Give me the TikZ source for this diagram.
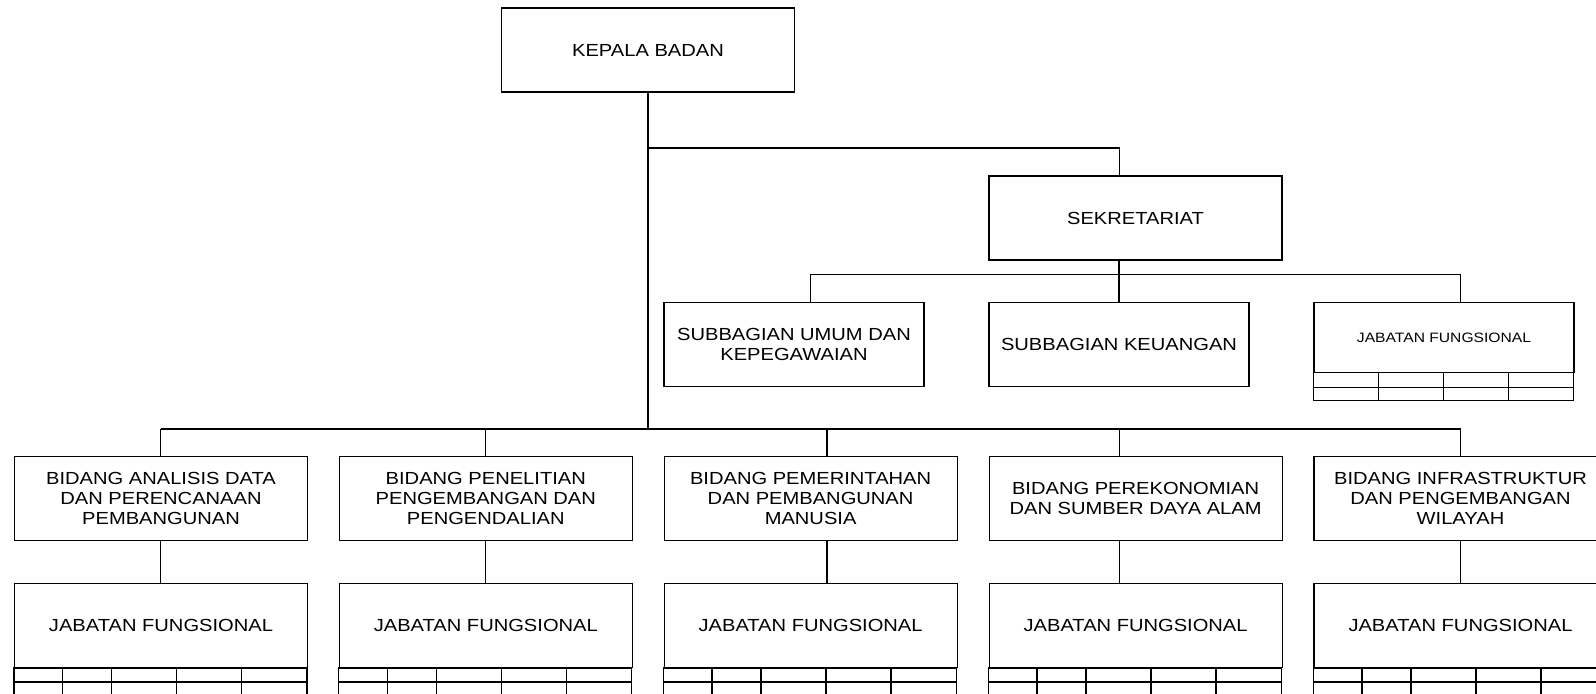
\documentclass[tikz,border=0pt]{standalone}
\usepackage{fontspec}
\setmainfont{Liberation Sans}[FakeStretch=1.15]
\begin{document}
\begin{tikzpicture}[x=0.5pt,y=-0.5pt,line width=0.6pt,
    unit/.style={rectangle,draw=black,minimum width=146.5pt,minimum height=42pt,
      inner sep=2pt,align=center,font=\fontsize{8.75}{10}\selectfont},
    sub/.style={unit,minimum width=130pt,minimum height=42.2pt}]
    \useasboundingbox (0,0) rectangle (1596,694);

    \node[unit] (K) at (648, 50) {KEPALA BADAN};
    \node[unit] (S) at (1135.5, 218) {SEKRETARIAT};

    \node[sub] (S1) at (794, 344.5) {SUBBAGIAN UMUM DAN\\KEPEGAWAIAN};
    \node[sub] (S2) at (1119, 344.5) {SUBBAGIAN KEUANGAN};
    \node[sub,minimum height=34.8pt,font=\fontsize{6.8}{8}\selectfont] (S3) at (1444, 337.5) {JABATAN FUNGSIONAL};

    \draw (S3.south west) rectangle ++(260,27.7);
    \draw (S3.south west) ++(0,14.4) -- ++(260,0);
    \foreach \c in {65,130,195}
        \draw (S3.south west) ++(\c,0) -- ++(0,27.7);

    \node[unit] (B1) at (161, 498.7) {BIDANG ANALISIS DATA\\DAN PERENCANAAN\\PEMBANGUNAN};
    \node[unit] (B2) at (485.8, 498.7) {BIDANG PENELITIAN\\PENGEMBANGAN DAN\\PENGENDALIAN};
    \node[unit] (B3) at (810.6, 498.7) {BIDANG PEMERINTAHAN\\DAN PEMBANGUNAN\\MANUSIA};
    \node[unit] (B4) at (1135.6, 498.7) {BIDANG PEREKONOMIAN\\DAN SUMBER DAYA ALAM};
    \node[unit] (B5) at (1460.5, 498.7) {BIDANG INFRASTRUKTUR\\DAN PENGEMBANGAN\\WILAYAH};

    \foreach \i/\x in {1/161,2/485.8,3/810.6,4/1135.6,5/1460.5} {
        \node[unit] (J\i) at (\x, 625.5) {JABATAN FUNGSIONAL};
        \draw (J\i.south west) rectangle ++(293,28);
        \draw (J\i.south west) ++(0,14) -- ++(293,0);
        \foreach \c in {48.5,97.5,162.5,227.5}
            \draw (J\i.south west) ++(\c,0) -- ++(0,28);
    }

    % kepala -> sekretariat
    \coordinate (T1) at (648, 148);
    \coordinate (T2) at (648, 429);
    \coordinate (T3) at (1119.3, 148);
    \draw (K) -- (T2);
    \draw (T1) -- (T3) -- (T3 |- S.north);

    % sekretariat -> subbagian
    \coordinate (U1) at (810.7, 274.7);
    \coordinate (U2) at (1460.6, 274.7);
    \draw (S.south -| S2) -- (S2);
    \draw (U1 |- S1.north) -- (U1) -- (U2) -- (U2 |- S3.north);

    % kepala -> bidang -> jabatan fungsional
    \coordinate (V1) at (160.7, 429);
    \coordinate (V2) at (485.8, 429);
    \coordinate (V3) at (827, 429);
    \coordinate (V4) at (1119.3, 429);
    \coordinate (V5) at (1460.6, 429);
    \draw (V1) -- (V5);
    \foreach \i in {1,...,5} {
        \draw (V\i) -- (V\i |- B\i.north);
        \draw (V\i |- B\i.south) -- (V\i |- J\i.north);
    }
\end{tikzpicture}
\end{document}
